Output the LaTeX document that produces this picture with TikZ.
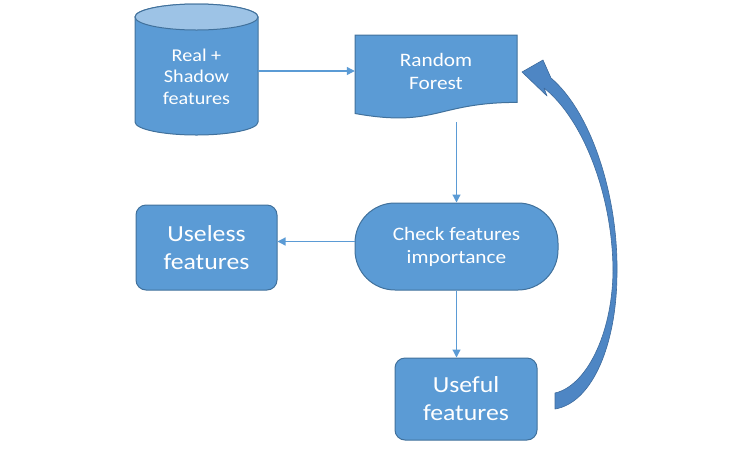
\documentclass[tikz,border=0pt]{standalone}
\usepackage{fontspec}
\setmainfont[FakeStretch=1.12]{Carlito}
\usetikzlibrary{arrows.meta}
\definecolor{boxblue}{HTML}{5B9BD5}
\definecolor{edgeblue}{HTML}{41719C}
\definecolor{topblue}{HTML}{9DC3E6}
\definecolor{loopblue}{HTML}{4E86C4}
\begin{document}
\begin{tikzpicture}[x=1pt,y=-1pt,
  every node/.style = {align=center, text=white, inner sep=0pt},
  flowbox/.style = {rectangle, rounded corners=10pt, draw=edgeblue, fill=boxblue,
    line width=1pt},
  bigtext/.style = {font=\fontsize{23}{28}\selectfont},
  smalltext/.style = {font=\fontsize{19}{23}\selectfont},
  link/.style = {draw=boxblue, line width=1.2pt, -{Triangle[length=8pt,width=8pt]}}
  ]
  \useasboundingbox (0,0) rectangle (753,459);
  % database
  \filldraw[fill=boxblue, draw=edgeblue, line width=1pt]
    (135,17) -- (135,122) arc[start angle=180, end angle=360, x radius=61.5pt, y radius=13pt]
    -- (258,17) arc[start angle=0, end angle=180, x radius=61.5pt, y radius=13pt] -- cycle;
  \filldraw[fill=topblue, draw=edgeblue, line width=1pt]
    (196.5,17) ellipse[x radius=61.5pt, y radius=13pt];
  \node[minimum width=123pt, minimum height=131pt, yshift=-7pt,
    font=\fontsize{18}{21.5}\selectfont] (db) at (196.5,69.5) {Real +\\Shadow\\features};
  % document
  \filldraw[fill=boxblue, draw=edgeblue, line width=1pt]
    (355,35) -- (517,35) -- (517,102.4)
    .. controls (436,102.4) and (436,128) .. (355,113.5) -- cycle;
  \node[smalltext, minimum width=162pt, minimum height=84pt, text depth=6pt, yshift=3pt]
    (forest) at (436,77) {Random\\Forest};
  % boxes
  \node[flowbox, rounded corners=40pt, smalltext, minimum width=203pt, minimum height=87pt]
    (check) at (456.5,246.5) {Check features\\importance};
  \node[flowbox, bigtext, minimum width=141pt, minimum height=85pt]
    (useless) at (206.5,247.5) {Useless\\features};
  \node[flowbox, bigtext, minimum width=142pt, minimum height=82pt]
    (useful) at (466,399) {Useful\\features};
  % connectors
  \draw[link] (db.east |- 0,71) -- (forest.west |- 0,71);
  \draw[link, shorten <=6pt] (forest.south -| check.north) -- (check.north);
  \draw[link] ([yshift=5pt]check.west) -- ([yshift=5pt]check.west -| useless.east);
  \draw[link] (check.south) -- (check.south |- useful.north);
  % loop back
  \filldraw[fill=loopblue, draw=loopblue!80!black, line width=0.6pt, line join=round]
    (555,393) .. controls (586,386) and (612,335) .. (613,272)
    .. controls (613,197) and (584,120) .. (544,88)
    -- (547,96) -- (522,72) -- (543,60) -- (551,78)
    .. controls (591,112) and (618,195) .. (617,272)
    .. controls (617,345) and (592,403) .. (555,409) -- cycle;
\end{tikzpicture}
\end{document}
